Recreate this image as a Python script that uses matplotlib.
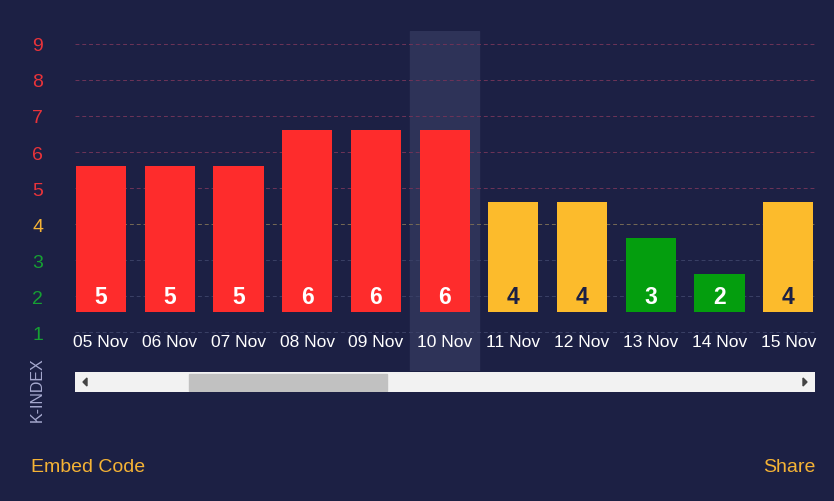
import matplotlib.pyplot as plt
from matplotlib.patches import Rectangle, Polygon

# K-index forecast data
days = ["05 Nov", "06 Nov", "07 Nov", "08 Nov", "09 Nov", "10 Nov",
        "11 Nov", "12 Nov", "13 Nov", "14 Nov", "15 Nov"]
kindex = [5, 5, 5, 6, 6, 6, 4, 4, 3, 2, 4]
levels = [1, 2, 3, 4, 5, 6, 7, 8, 9]
highlight = "10 Nov"

BG = "#1c2044"
RED = "#fe2c2c"
YELLOW = "#fcbb2c"
GREEN = "#049e0e"

plt.rcParams["font.family"] = ["Liberation Sans", "DejaVu Sans"]


def bar_color(k):
    if k >= 5:
        return RED
    if k == 4:
        return YELLOW
    return GREEN


def tick_color(k):
    if k >= 5:
        return "#e8333a"
    if k == 4:
        return "#f5b335"
    return "#16a033"


def grid_color(k):
    if k >= 5:
        return "#6e3458"
    if k == 4:
        return "#766a55"
    return "#3a4066"


W, H = 834, 502
fig = plt.figure(figsize=(W / 100, H / 100), dpi=100, facecolor=BG)


def px_box(x0, y0, x1, y1):
    return [x0 / W, 1 - y1 / H, (x1 - x0) / W, (y1 - y0) / H]


ax = fig.add_axes(px_box(75, 32, 815, 372))
ax.set_facecolor(BG)
for s in ax.spines.values():
    s.set_visible(False)

x = list(range(len(days)))
ax.set_xlim(-0.38, len(days) - 1 + 0.39)
ax.set_ylim(-0.08, 9.36)

# highlighted column
hi = days.index(highlight)
ax.axvspan(hi - 0.5, hi + 0.5, color="#2e3358", zorder=0)

for k in levels:
    ax.axhline(k, color=grid_color(k), lw=0.7, ls=(0, (4, 3)), zorder=1)

base = 1.55
heights = [k + 0.6 - base for k in kindex]
ax.bar(x, heights, bottom=base, width=0.73,
       color=[bar_color(k) for k in kindex], zorder=2)

for xi, k in zip(x, kindex):
    ax.text(xi, 2, str(k), ha="center", va="center", fontsize=16.5,
            fontweight="bold", zorder=3,
            color="#1c2044" if k == 4 else "white")

for xi, d in zip(x, days):
    ax.text(xi, 0.75, d, ha="center", va="center", fontsize=12.5,
            color="white", zorder=3)

ax.set_xticks([])
ax.set_yticks(levels)
ax.set_yticklabels([str(k) for k in levels], fontsize=14)
for lbl, k in zip(ax.get_yticklabels(), levels):
    lbl.set_color(tick_color(k))
ax.tick_params(axis="y", length=0, pad=23)

# scrollbar
sb = fig.add_axes(px_box(75, 373, 815, 393))
sb.set_xlim(75, 815)
sb.set_ylim(393, 373)
sb.axis("off")
sb.add_patch(Rectangle((75, 373), 740, 20, color="#f2f2f2"))
sb.add_patch(Rectangle((189, 375), 198, 17, color="#c1c1c1"))
sb.add_patch(Polygon([(83, 383), (87, 379), (87, 387)], color="#444444"))
sb.add_patch(Polygon([(807, 383), (803, 379), (803, 387)], color="#444444"))

fig.text(37 / W, 1 - 390 / H, "K-INDEX", rotation=90, ha="center",
         va="center", fontsize=11.5, color="#a6a9cf")
fig.text(31 / W, 1 - 468 / H, "Embed Code", ha="left", va="center",
         fontsize=14, color="#f5b335")
fig.text(815 / W, 1 - 468 / H, "Share", ha="right", va="center",
         fontsize=14, color="#f5b335")

fig.savefig("out.png", dpi=100, facecolor=BG)
